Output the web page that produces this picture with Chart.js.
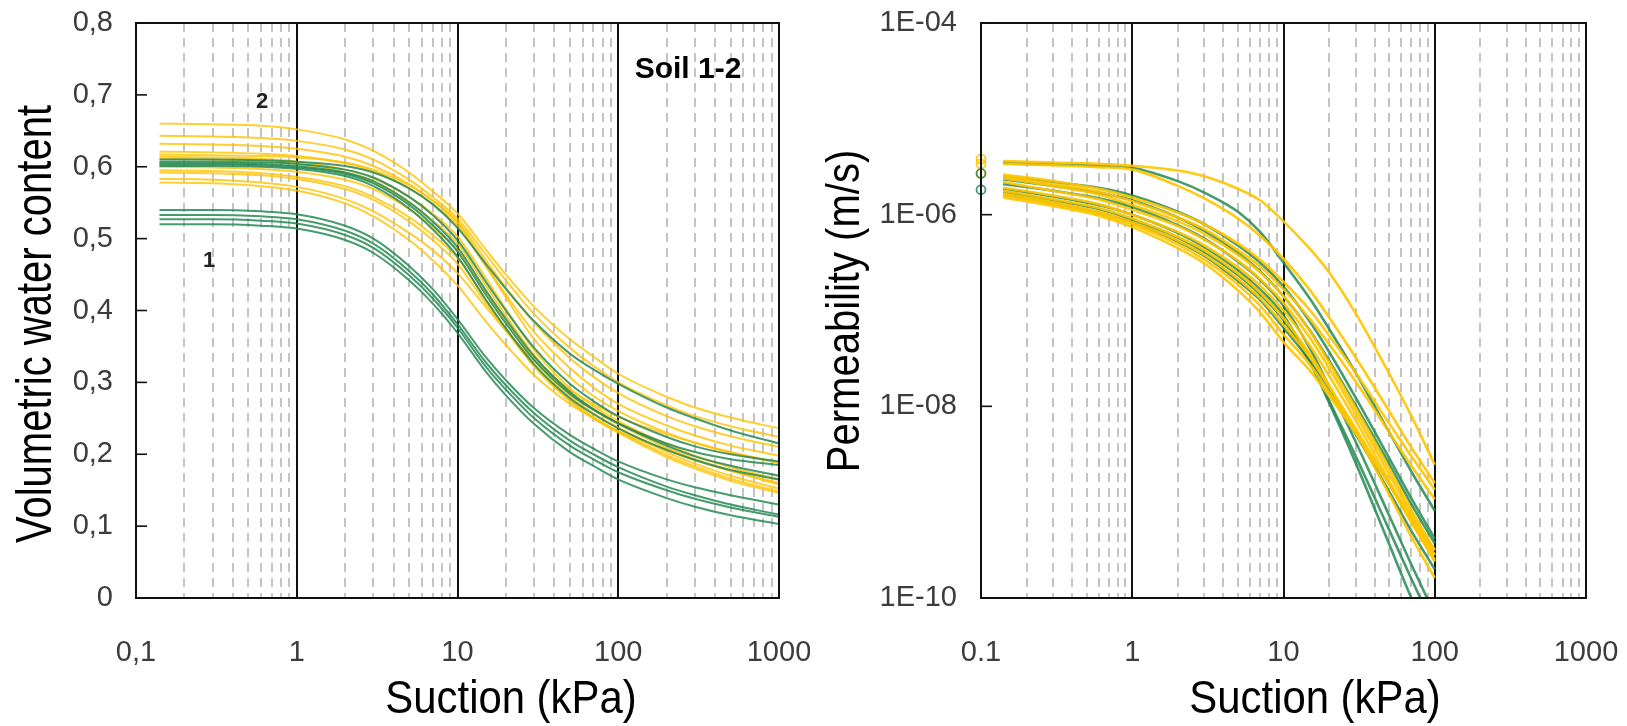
<!DOCTYPE html>
<html>
<head>
<meta charset="utf-8">
<script src="https://cdn.jsdelivr.net/npm/chart.js@4.4.1/dist/chart.umd.min.js"></script>
<style>
  body { margin: 0; background: #fff; }
  #wrap { position: relative; width: 1627px; height: 726px; }
  #leftChart { position: absolute; left: 0; top: 0; }
  #rightChart { position: absolute; left: 810px; top: 0; }
</style>
</head>
<body>
<div id="wrap">
  <canvas id="leftChart" width="810" height="726"></canvas>
  <canvas id="rightChart" width="817" height="726"></canvas>
</div>
<script>
// Suction (kPa) where the water content curves were read
const suctionWater = [0.14, 0.3, 0.6, 1, 2, 3, 5, 7, 10, 15, 20, 30, 50, 70, 100, 200, 300, 500, 1000];

// Volumetric water content - green curves
const waterGreen = [
    [0.540, 0.540, 0.538, 0.534, 0.518, 0.500, 0.462, 0.430, 0.388, 0.335, 0.303, 0.264, 0.227, 0.208, 0.190, 0.165, 0.154, 0.143, 0.130],
    [0.533, 0.533, 0.531, 0.527, 0.511, 0.493, 0.455, 0.423, 0.381, 0.328, 0.296, 0.257, 0.219, 0.200, 0.182, 0.155, 0.143, 0.130, 0.116],
    [0.527, 0.527, 0.525, 0.521, 0.505, 0.487, 0.449, 0.417, 0.376, 0.322, 0.290, 0.250, 0.212, 0.193, 0.175, 0.150, 0.138, 0.126, 0.113],
    [0.520, 0.520, 0.518, 0.514, 0.498, 0.480, 0.442, 0.410, 0.369, 0.315, 0.282, 0.242, 0.203, 0.184, 0.165, 0.139, 0.127, 0.115, 0.103],
    [0.610, 0.610, 0.609, 0.607, 0.601, 0.592, 0.570, 0.548, 0.515, 0.465, 0.430, 0.385, 0.340, 0.318, 0.298, 0.265, 0.250, 0.233, 0.215],
    [0.607, 0.607, 0.606, 0.604, 0.596, 0.585, 0.558, 0.533, 0.498, 0.440, 0.400, 0.348, 0.298, 0.274, 0.253, 0.224, 0.211, 0.200, 0.190],
    [0.605, 0.605, 0.604, 0.601, 0.592, 0.580, 0.551, 0.524, 0.488, 0.428, 0.388, 0.336, 0.287, 0.263, 0.243, 0.212, 0.197, 0.184, 0.170],
    [0.603, 0.603, 0.602, 0.599, 0.590, 0.577, 0.547, 0.519, 0.482, 0.422, 0.382, 0.331, 0.284, 0.262, 0.243, 0.215, 0.203, 0.193, 0.185],
    [0.601, 0.601, 0.600, 0.597, 0.587, 0.573, 0.542, 0.513, 0.475, 0.415, 0.375, 0.325, 0.278, 0.256, 0.236, 0.206, 0.192, 0.178, 0.165]
];

// Volumetric water content - yellow curves
const waterYellow = [
    [0.660, 0.659, 0.657, 0.652, 0.638, 0.622, 0.592, 0.566, 0.535, 0.485, 0.450, 0.405, 0.360, 0.336, 0.312, 0.280, 0.265, 0.251, 0.236],
    [0.643, 0.642, 0.640, 0.636, 0.624, 0.610, 0.582, 0.558, 0.528, 0.478, 0.442, 0.395, 0.348, 0.323, 0.300, 0.268, 0.253, 0.239, 0.224],
    [0.632, 0.631, 0.629, 0.625, 0.614, 0.601, 0.576, 0.553, 0.524, 0.470, 0.432, 0.383, 0.334, 0.308, 0.285, 0.253, 0.239, 0.225, 0.210],
    [0.621, 0.620, 0.618, 0.615, 0.605, 0.594, 0.570, 0.548, 0.518, 0.462, 0.422, 0.370, 0.320, 0.293, 0.270, 0.240, 0.226, 0.212, 0.198],
    [0.617, 0.616, 0.615, 0.613, 0.606, 0.596, 0.574, 0.553, 0.522, 0.462, 0.418, 0.360, 0.307, 0.281, 0.260, 0.230, 0.216, 0.202, 0.188],
    [0.614, 0.613, 0.611, 0.607, 0.596, 0.584, 0.558, 0.535, 0.503, 0.445, 0.402, 0.345, 0.292, 0.267, 0.246, 0.214, 0.198, 0.182, 0.165],
    [0.611, 0.610, 0.608, 0.604, 0.592, 0.578, 0.550, 0.525, 0.493, 0.435, 0.393, 0.338, 0.286, 0.262, 0.242, 0.209, 0.193, 0.177, 0.160],
    [0.600, 0.599, 0.597, 0.593, 0.582, 0.569, 0.541, 0.516, 0.484, 0.426, 0.385, 0.331, 0.281, 0.257, 0.237, 0.203, 0.187, 0.170, 0.152],
    [0.592, 0.591, 0.588, 0.583, 0.569, 0.554, 0.524, 0.498, 0.465, 0.410, 0.372, 0.322, 0.275, 0.252, 0.232, 0.199, 0.183, 0.166, 0.148],
    [0.583, 0.582, 0.578, 0.572, 0.555, 0.538, 0.508, 0.484, 0.452, 0.405, 0.372, 0.330, 0.290, 0.270, 0.252, 0.228, 0.216, 0.203, 0.188],
    [0.578, 0.577, 0.573, 0.567, 0.549, 0.531, 0.498, 0.470, 0.435, 0.385, 0.352, 0.310, 0.270, 0.250, 0.232, 0.206, 0.192, 0.177, 0.158],
    [0.595, 0.594, 0.591, 0.586, 0.573, 0.558, 0.530, 0.505, 0.473, 0.415, 0.375, 0.323, 0.274, 0.250, 0.230, 0.196, 0.180, 0.163, 0.146]
];

// Suction (kPa) where the permeability curves were read
const suctionPerm = [0.14, 0.3, 0.6, 1, 2, 3, 5, 7, 10, 15, 20, 30, 50, 70, 100];

// Permeability exponents, log10(k in m/s) - green curves
const permGreenLog = [
    [-5.46, -5.475, -5.49, -5.51, -5.65, -5.77, -5.97, -6.18, -6.50, -6.88, -7.19, -7.65, -8.27, -8.68, -9.09],
    [-5.60, -5.66, -5.72, -5.80, -5.97, -6.10, -6.32, -6.50, -6.75, -7.12, -7.43, -7.91, -8.54, -8.96, -9.38],
    [-5.63, -5.70, -5.77, -5.85, -6.03, -6.17, -6.40, -6.59, -6.85, -7.21, -7.52, -7.99, -8.60, -9.02, -9.43],
    [-5.68, -5.75, -5.83, -5.92, -6.11, -6.25, -6.49, -6.68, -6.95, -7.40, -7.79, -8.37, -9.14, -9.65, -10.17],
    [-5.73, -5.81, -5.90, -6.00, -6.19, -6.34, -6.58, -6.78, -7.05, -7.54, -7.96, -8.59, -9.44, -10.00, -10.56],
    [-5.76, -5.85, -5.94, -6.05, -6.24, -6.39, -6.63, -6.83, -7.10, -7.55, -7.94, -8.52, -9.29, -9.80, -10.32],
    [-5.79, -5.88, -5.98, -6.08, -6.28, -6.43, -6.69, -6.89, -7.18, -7.53, -7.84, -8.29, -8.89, -9.30, -9.70]
];

// Permeability exponents, log10(k in m/s) - yellow curves
const permYellowLog = [
    [-5.44, -5.455, -5.47, -5.49, -5.54, -5.60, -5.73, -5.85, -6.07, -6.36, -6.60, -7.03, -7.66, -8.10, -8.61],
    [-5.47, -5.485, -5.505, -5.53, -5.70, -5.83, -6.04, -6.22, -6.46, -6.79, -7.07, -7.49, -8.05, -8.43, -8.80],
    [-5.58, -5.65, -5.73, -5.82, -5.98, -6.10, -6.30, -6.47, -6.70, -7.00, -7.26, -7.65, -8.18, -8.52, -8.87],
    [-5.60, -5.68, -5.76, -5.86, -6.03, -6.15, -6.37, -6.54, -6.78, -7.09, -7.35, -7.74, -8.27, -8.62, -8.97],
    [-5.62, -5.70, -5.79, -5.90, -6.07, -6.20, -6.42, -6.60, -6.85, -7.22, -7.54, -8.02, -8.65, -9.08, -9.50],
    [-5.66, -5.75, -5.84, -5.95, -6.12, -6.26, -6.48, -6.67, -6.92, -7.29, -7.60, -8.08, -8.71, -9.13, -9.55],
    [-5.72, -5.80, -5.89, -6.00, -6.18, -6.32, -6.55, -6.74, -7.00, -7.37, -7.68, -8.15, -8.78, -9.20, -9.62],
    [-5.75, -5.84, -5.93, -6.04, -6.23, -6.37, -6.61, -6.81, -7.08, -7.46, -7.78, -8.27, -8.92, -9.36, -9.79],
    [-5.78, -5.87, -5.97, -6.08, -6.27, -6.42, -6.67, -6.87, -7.15, -7.49, -7.79, -8.23, -8.82, -9.21, -9.60],
    [-5.80, -5.89, -5.99, -6.10, -6.31, -6.47, -6.73, -6.95, -7.25, -7.57, -7.85, -8.26, -8.81, -9.18, -9.55],
    [-5.82, -5.91, -6.01, -6.13, -6.35, -6.51, -6.79, -7.02, -7.33, -7.63, -7.89, -8.28, -8.81, -9.15, -9.50]
];

// Measured saturated permeability (circles at 0.1 kPa), log10(k)
const ksGreenLog = [-5.57, -5.74];
const ksYellowLog = [-5.42, -5.47, -5.57];

// Axis ticks
const suctionLabelValues = [0.1, 1, 10, 100, 1000];
const suctionLabelsComma = ['0,1', '1', '10', '100', '1000'];
const suctionLabelsDot = ['0.1', '1', '10', '100', '1000'];
const permTickValues = [1e-4, 1e-6, 1e-8, 1e-10];
const permTickLabels = ['1E-04', '1E-06', '1E-08', '1E-10'];

const GREEN = 'rgba(36, 138, 84, 0.85)';
const YELLOW_LEFT = 'rgba(255, 194, 0, 0.8)';
const YELLOW_RIGHT = 'rgba(255, 196, 0, 0.92)';
const FONT = 'Arial, "Liberation Sans", Helvetica, sans-serif';
const TICK_COLOR = '#3c3c3c';

function isDecade(v) {
    const l = Math.log10(v);
    return Math.abs(l - Math.round(l)) < 1e-6;
}

// 1..9 per decade, from 0.1 to 1000
function suctionGridTicks() {
    const ticks = [];
    [0.1, 1, 10, 100].forEach(d => {
        for (let m = 1; m <= 9; m++) {
            const v = Number((d * m).toPrecision(6));
            ticks.push({ value: v, major: m === 1 });
        }
    });
    ticks.push({ value: 1000, major: true });
    return ticks;
}

function curveDataset(xs, ys, color, width, order) {
    return {
        data: xs.map((x, i) => ({ x: x, y: ys[i] })),
        borderColor: color,
        borderWidth: width,
        pointRadius: 0,
        fill: false,
        cubicInterpolationMode: 'monotone',
        order: order
    };
}

function suctionAxis(labels) {
    return {
        type: 'logarithmic',
        min: 0.1,
        max: 1000,
        afterBuildTicks: (scale) => { scale.ticks = suctionGridTicks(); },
        afterFit: (scale) => {
            scale.height = 128;
            scale.paddingLeft = 0;
            scale.paddingRight = 0;
        },
        ticks: {
            autoSkip: false,
            maxRotation: 0,
            padding: 38,
            color: TICK_COLOR,
            font: { family: FONT, size: 29 },
            callback: (value) => {
                const idx = suctionLabelValues.findIndex(v => Math.abs(v - value) < 1e-9);
                return idx >= 0 ? labels[idx] : '';
            }
        },
        grid: {
            drawTicks: false,
            color: (ctx) => isDecade(ctx.tick.value) ? '#111' : '#c4c4c4',
            lineWidth: 2
        },
        border: {
            display: false,
            dash: (ctx) => (ctx.tick && isDecade(ctx.tick.value)) ? [] : [9, 6]
        }
    };
}

// Frame, inward y tick marks and all titles/annotations
function decorPlugin(texts) {
    return {
        id: 'decor',
        afterDraw(chart) {
            const ctx = chart.ctx;
            const a = chart.chartArea;
            const yScale = chart.scales.y;
            ctx.save();
            ctx.strokeStyle = '#111';
            ctx.lineWidth = 2;
            ctx.strokeRect(a.left, a.top, a.right - a.left, a.bottom - a.top);
            ctx.lineWidth = 1.6;
            yScale.ticks.forEach(t => {
                const py = yScale.getPixelForValue(t.value);
                ctx.beginPath();
                ctx.moveTo(a.left, py);
                ctx.lineTo(a.left + 11, py);
                ctx.stroke();
            });
            texts.forEach(t => {
                ctx.save();
                ctx.translate(t.x, t.y);
                ctx.rotate(t.rot || 0);
                ctx.scale(t.sx || 1, 1);
                ctx.font = t.font;
                ctx.fillStyle = t.color || '#000';
                ctx.textAlign = 'center';
                ctx.textBaseline = t.baseline || 'middle';
                ctx.fillText(t.text, 0, 0);
                ctx.restore();
            });
            ctx.restore();
        }
    };
}

// Left chart: water retention curves
const leftDatasets = [];
waterYellow.forEach(ys => leftDatasets.push(curveDataset(suctionWater, ys, YELLOW_LEFT, 2, 2)));
waterGreen.forEach(ys => leftDatasets.push(curveDataset(suctionWater, ys, GREEN, 2, 1)));

new Chart(document.getElementById('leftChart'), {
    type: 'line',
    data: { datasets: leftDatasets },
    options: {
        responsive: false,
        animation: false,
        events: [],
        layout: { padding: { left: 0, top: 23, right: 31, bottom: 0 } },
        plugins: { legend: { display: false }, tooltip: { enabled: false } },
        scales: {
            x: suctionAxis(suctionLabelsComma),
            y: {
                type: 'linear',
                min: 0,
                max: 0.8,
                afterFit: (scale) => {
                    scale.width = 136;
                    scale.paddingTop = 0;
                    scale.paddingBottom = 0;
                },
                ticks: {
                    stepSize: 0.1,
                    padding: 23,
                    color: TICK_COLOR,
                    font: { family: FONT, size: 29 },
                    callback: (value) => value === 0 ? '0' : value.toFixed(1).replace('.', ',')
                },
                grid: { display: false, drawTicks: false },
                border: { display: false }
            }
        }
    },
    plugins: [decorPlugin([
        { text: 'Volumetric water content', x: 37, y: 324, rot: -Math.PI / 2, sx: 0.8, font: '50px ' + FONT },
        { text: 'Suction (kPa)', x: 511, y: 713, baseline: 'alphabetic', sx: 0.91, font: '46px ' + FONT },
        { text: '2', x: 262, y: 102, font: 'bold 22px ' + FONT, color: '#222' },
        { text: '1', x: 209, y: 261, font: 'bold 22px ' + FONT, color: '#222' },
        { text: 'Soil 1-2', x: 688, y: 70, font: 'bold 30px ' + FONT }
    ])]
});

// Right chart: permeability curves
const rightDatasets = [];
permGreenLog.forEach(ls => rightDatasets.push(curveDataset(suctionPerm, ls.map(v => Math.pow(10, v)), GREEN, 2.6, 2)));
permYellowLog.forEach(ls => rightDatasets.push(curveDataset(suctionPerm, ls.map(v => Math.pow(10, v)), YELLOW_RIGHT, 2.6, 1)));

function ksDataset(logs, color) {
    return {
        type: 'scatter',
        data: logs.map(v => ({ x: 0.1, y: Math.pow(10, v) })),
        borderColor: color,
        backgroundColor: 'rgba(0,0,0,0)',
        borderWidth: 1.8,
        pointRadius: 4.5,
        clip: false,
        order: 0
    };
}
rightDatasets.push(ksDataset(ksGreenLog, GREEN));
rightDatasets.push(ksDataset(ksYellowLog, YELLOW_RIGHT));

new Chart(document.getElementById('rightChart'), {
    type: 'line',
    data: { datasets: rightDatasets },
    options: {
        responsive: false,
        animation: false,
        events: [],
        layout: { padding: { left: 0, top: 23, right: 41, bottom: 0 } },
        plugins: { legend: { display: false }, tooltip: { enabled: false } },
        scales: {
            x: suctionAxis(suctionLabelsDot),
            y: {
                type: 'logarithmic',
                min: 1e-10,
                max: 1e-4,
                afterBuildTicks: (scale) => {
                    scale.ticks = permTickValues.map(v => ({ value: v }));
                },
                afterFit: (scale) => {
                    scale.width = 171;
                    scale.paddingTop = 0;
                    scale.paddingBottom = 0;
                },
                ticks: {
                    autoSkip: false,
                    padding: 24,
                    color: TICK_COLOR,
                    font: { family: FONT, size: 29 },
                    callback: (value) => {
                        const idx = permTickValues.findIndex(v => Math.abs(Math.log10(v) - Math.log10(value)) < 1e-6);
                        return idx >= 0 ? permTickLabels[idx] : '';
                    }
                },
                grid: { display: false, drawTicks: false },
                border: { display: false }
            }
        }
    },
    plugins: [decorPlugin([
        { text: 'Permeability (m/s)', x: 36, y: 311, rot: -Math.PI / 2, sx: 0.87, font: '46px ' + FONT },
        { text: 'Suction (kPa)', x: 505, y: 713, baseline: 'alphabetic', sx: 0.91, font: '46px ' + FONT }
    ])]
});
</script>
</body>
</html>
